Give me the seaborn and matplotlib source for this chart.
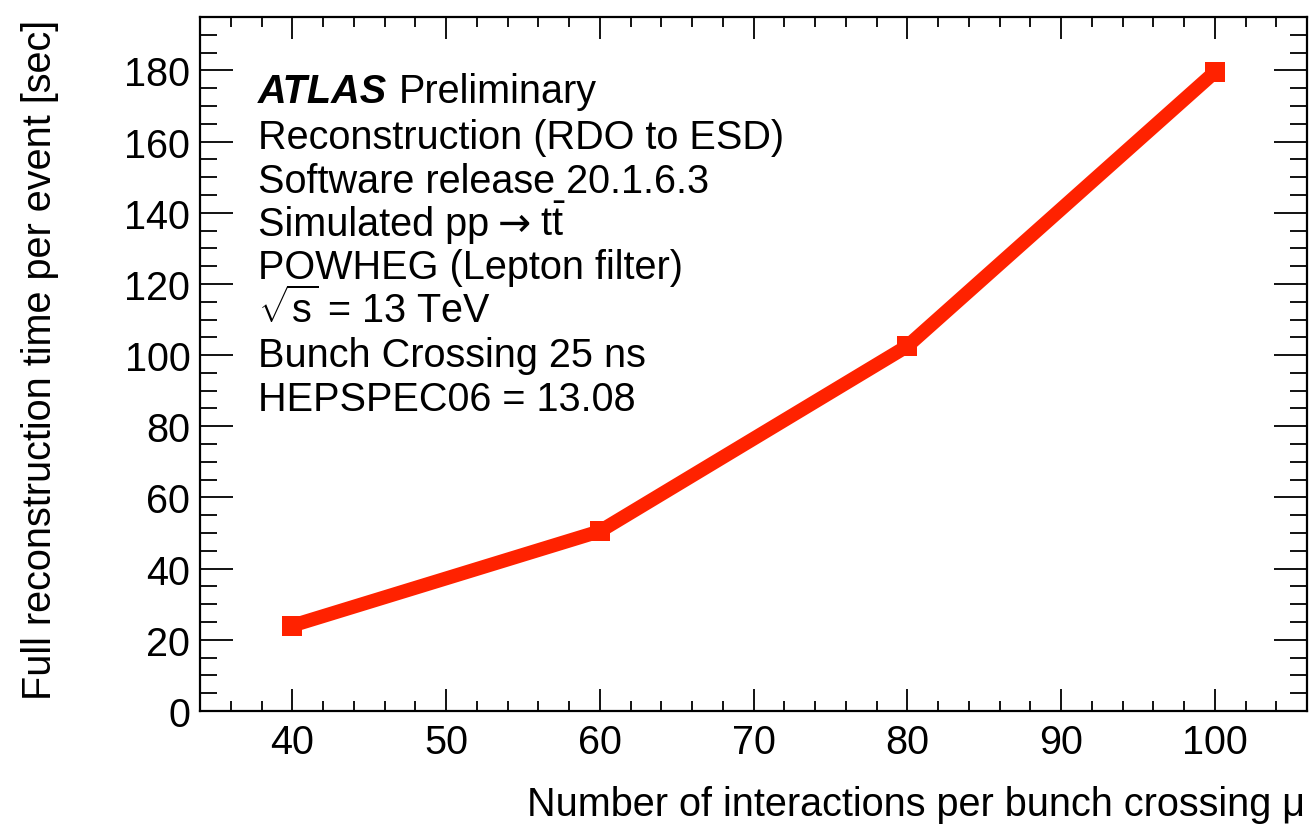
import matplotlib
matplotlib.use("Agg")
import matplotlib.pyplot as plt
from matplotlib.ticker import MultipleLocator
import seaborn as sns
import pandas as pd

mu = [40, 60, 80, 100]
reco_time = [24, 50.5, 102.5, 179.5]

info_lines = [
    "Reconstruction (RDO to ESD)",
    "Software release 20.1.6.3",
    ["Simulated pp", "\u2192", "t$\\bar{\\mathrm{t}}$"],
    "POWHEG (Lepton filter)",
    r"$\sqrt{\mathrm{s}}$ = 13 TeV",
    "Bunch Crossing 25 ns",
    "HEPSPEC06 = 13.08",
]

sns.set_style("ticks")
plt.rcParams['font.family'] = ['Liberation Sans', 'DejaVu Sans']
plt.rcParams['mathtext.fontset'] = 'custom'
plt.rcParams['mathtext.rm'] = 'Liberation Sans'
plt.rcParams['mathtext.it'] = 'Liberation Sans:italic'
plt.rcParams['mathtext.bf'] = 'Liberation Sans:bold'
plt.rcParams['text.color'] = 'black'
plt.rcParams['axes.labelcolor'] = 'black'
plt.rcParams['xtick.color'] = 'black'
plt.rcParams['ytick.color'] = 'black'

FS = 28.5
W, H = 1309, 829
fig = plt.figure(figsize=(W / 100, H / 100), dpi=100)
ax = fig.add_axes([200 / W, 1 - 712 / H, (1307 - 200) / W, (712 - 18) / H])

df = pd.DataFrame({"mu": mu, "t": reco_time})
sns.lineplot(data=df, x="mu", y="t", ax=ax, color="#ff2200", lw=10,
             marker="s", markersize=15, markeredgewidth=0, legend=False)

ax.set_xlim(34, 106)
ax.set_ylim(0, 195)
ax.xaxis.set_major_locator(MultipleLocator(10))
ax.xaxis.set_minor_locator(MultipleLocator(2))
ax.yaxis.set_major_locator(MultipleLocator(20))
ax.yaxis.set_minor_locator(MultipleLocator(5))
ax.tick_params(axis='both', which='both', direction='in', top=True, right=True,
               labelsize=FS, colors='black', width=1.3)
ax.tick_params(axis='x', which='major', length=16, pad=9)
ax.tick_params(axis='x', which='minor', length=7.5)
ax.tick_params(axis='y', which='major', length=24, pad=7)
ax.tick_params(axis='y', which='minor', length=12.5)
for s in ax.spines.values():
    s.set_visible(True)
    s.set_linewidth(1.6)
    s.set_color('black')

ax.set_xlabel("")
ax.set_ylabel("")
fig.text(1305 / W, 1 - 805 / H, "Number of interactions per bunch crossing \u03bc",
         fontsize=FS, ha='right', va='center')
fig.text(40 / W, 1 - 360 / H, "Full reconstruction time per event [sec]",
         fontsize=FS, rotation=90, ha='center', va='center')

x0 = 258 / W
t1 = fig.text(x0, 1 - 92 / H, "ATLAS", fontsize=FS, fontweight='bold',
              fontstyle='italic', ha='left', va='center')
fig.canvas.draw()
bb = t1.get_window_extent()
fig.text((bb.x1 + 12) / W, 1 - 92 / H, "Preliminary", fontsize=FS,
         ha='left', va='center')

ys = [138, 182, 236, 268, 310, 356, 400]
for yy, line in zip(ys, info_lines):
    if isinstance(line, list):
        xp = x0 * W
        for piece in line:
            fam = ['DejaVu Sans'] if piece == "\u2192" else ['Liberation Sans', 'DejaVu Sans']
            t = fig.text(xp / W, 1 - yy / H, piece, fontsize=FS, family=fam,
                         ha='left', va='baseline')
            fig.canvas.draw()
            eb = t.get_window_extent()
            xp = eb.x1 + 9
    else:
        fig.text(x0, 1 - yy / H, line, fontsize=FS, ha='left', va='center')

fig.savefig("out.png", dpi=100)
